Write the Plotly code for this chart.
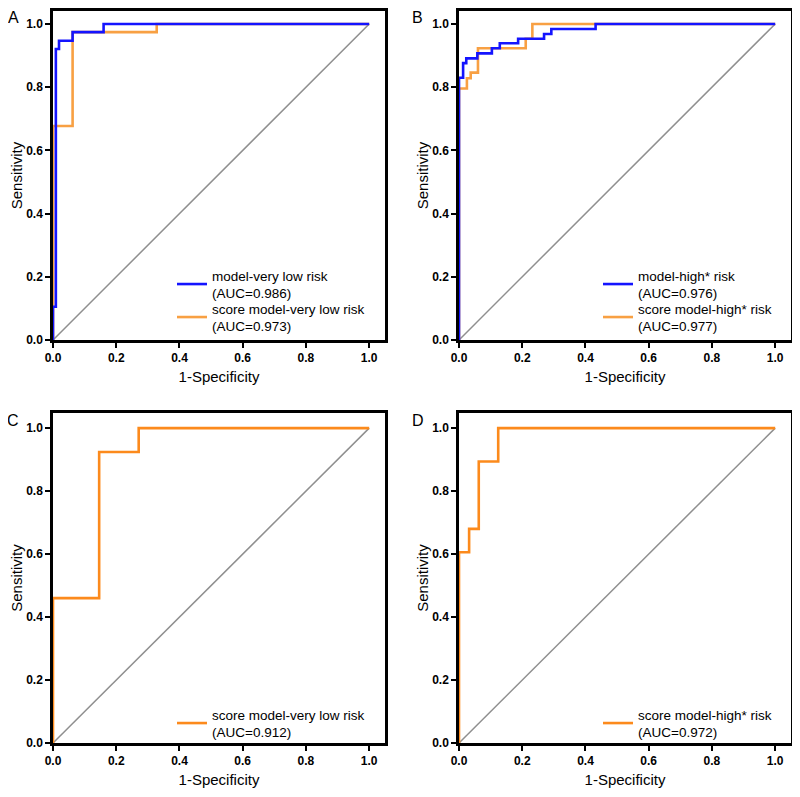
import plotly.graph_objects as go

# ---- data ----
# Panel A: very low risk
a_model_x = [0, 0, 0.009, 0.009, 0.019, 0.019, 0.062, 0.062, 0.16, 0.16, 1.0]
a_model_y = [0, 0.105, 0.105, 0.921, 0.921, 0.947, 0.947, 0.974, 0.974, 1.0, 1.0]
a_score_x = [0, 0, 0.062, 0.062, 0.328, 0.328, 1.0]
a_score_y = [0, 0.677, 0.677, 0.974, 0.974, 1.0, 1.0]
# Panel B: high* risk
b_model_x = [0, 0, 0.013, 0.013, 0.023, 0.023, 0.058, 0.058, 0.104, 0.104, 0.129, 0.129,
             0.187, 0.187, 0.269, 0.269, 0.292, 0.292, 0.432, 0.432, 1.0]
b_model_y = [0, 0.830, 0.830, 0.876, 0.876, 0.891, 0.891, 0.907, 0.907, 0.923, 0.923, 0.939,
             0.939, 0.953, 0.953, 0.968, 0.968, 0.984, 0.984, 1.0, 1.0]
b_score_x = [0, 0, 0.025, 0.025, 0.037, 0.037, 0.060, 0.060, 0.211, 0.211, 0.232, 0.232, 1.0]
b_score_y = [0, 0.796, 0.796, 0.828, 0.828, 0.846, 0.846, 0.923, 0.923, 0.953, 0.953, 1.0, 1.0]
# Panel C: score model very low risk
c_score_x = [0, 0, 0.146, 0.146, 0.271, 0.271, 1.0]
c_score_y = [0, 0.460, 0.460, 0.924, 0.924, 1.0, 1.0]
# Panel D: score model high* risk
d_score_x = [0, 0, 0.032, 0.032, 0.0625, 0.0625, 0.124, 0.124, 1.0]
d_score_y = [0, 0.606, 0.606, 0.680, 0.680, 0.894, 0.894, 1.0, 1.0]

ref_x = [0, 1]
ref_y = [0, 1]

tick_vals = [0, 0.2, 0.4, 0.6, 0.8, 1.0]
tick_text = ["0.0", "0.2", "0.4", "0.6", "0.8", "1.0"]
panel_letters = ["A", "B", "C", "D"]

BLUE = "#1414ff"
ORANGE_L = "#f8a043"
ORANGE_D = "#fc8a1c"
GREY = "#8f8f8f"
FONT = "Arial, Liberation Sans, sans-serif"

fig = go.Figure()

def add_panel(idx, curves):
    sfx = "" if idx == 1 else str(idx)
    xa, ya = "x" + sfx, "y" + sfx
    fig.add_trace(go.Scatter(x=ref_x, y=ref_y, mode="lines", xaxis=xa, yaxis=ya,
                             line=dict(color=GREY, width=1.5), showlegend=False,
                             hoverinfo="skip"))
    for (xs, ys, name, color, lg) in curves:
        fig.add_trace(go.Scatter(x=xs, y=ys, mode="lines", name=name, xaxis=xa, yaxis=ya,
                                 line=dict(color=color, width=2.6, shape="linear"),
                                 legend=lg))

add_panel(1, [
    (a_score_x, a_score_y, "score model-very low risk<br>(AUC=0.973)", ORANGE_L, "legend5"),
    (a_model_x, a_model_y, "model-very low risk<br>(AUC=0.986)", BLUE, "legend"),
])
add_panel(2, [
    (b_score_x, b_score_y, "score model-high* risk<br>(AUC=0.977)", ORANGE_L, "legend6"),
    (b_model_x, b_model_y, "model-high* risk<br>(AUC=0.976)", BLUE, "legend2"),
])
add_panel(3, [
    (c_score_x, c_score_y, "score model-very low risk<br>(AUC=0.912)", ORANGE_D, "legend3"),
])
add_panel(4, [
    (d_score_x, d_score_y, "score model-high* risk<br>(AUC=0.972)", ORANGE_D, "legend4"),
])

# The page body has an 8px margin, so figure pixel = reference pixel - 8
OFF = 8
W, H = 800 - OFF, 797 - OFF
# reference-pixel geometry of plot frames
R_LEFT_L, R_LEFT_R = 53, 385
R_RIGHT_L, R_RIGHT_R = 459, 791
R_TOP_T, R_TOP_B = 11, 340
R_BOT_T, R_BOT_B = 413, 743

ML = R_LEFT_L - OFF
MR = W - (R_RIGHT_R - OFF)
MT = R_TOP_T - OFF
MB = H - (R_BOT_B - OFF)
PW, PH = W - ML - MR, H - MT - MB

def px_x(px):
    return (px - OFF - ML) / PW

def px_y(py):
    return (H - MB - (py - OFF)) / PH

xdom_left = [0, px_x(R_LEFT_R)]
xdom_right = [px_x(R_RIGHT_L), 1]
ydom_top = [px_y(R_TOP_B), 1]
ydom_bot = [0, px_y(R_BOT_T)]

axis_common = dict(
    showline=True, linecolor="black", linewidth=2.5, mirror=True,
    ticks="outside", ticklen=5, tickwidth=2, tickcolor="black",
    showgrid=False, zeroline=False,
    tickvals=tick_vals, ticktext=tick_text,
    tickfont=dict(family=FONT, size=12, color="black", weight="bold"),
)

def xaxis(dom, anchor):
    d = dict(axis_common)
    d.update(domain=dom, anchor=anchor, range=[0, 1.05],
             title=dict(text="1-Specificity", font=dict(family=FONT, size=15, color="black"),
                        standoff=8))
    return d

def yaxis(dom, anchor, top):
    d = dict(axis_common)
    d.update(domain=dom, anchor=anchor, range=[0, top],
             title=dict(text="Sensitivity", font=dict(family=FONT, size=15, color="black"),
                        standoff=0))
    return d

legend_common = dict(bgcolor="rgba(0,0,0,0)", font=dict(family=FONT, size=13.5, color="black"),
                     xanchor="left", yanchor="top", itemwidth=30, tracegroupgap=0,
                     traceorder="normal")

def legend_at(xp, yp):
    d = dict(legend_common)
    d.update(x=px_x(xp), y=px_y(yp))
    return d

fig.update_layout(
    width=W, height=H,
    margin=dict(l=ML, r=MR, t=MT, b=MB, autoexpand=False),
    paper_bgcolor="white", plot_bgcolor="white",
    font=dict(family=FONT, color="black"),
    xaxis=xaxis(xdom_left, "y"), yaxis=yaxis(ydom_top, "x", 1.041),
    xaxis2=xaxis(xdom_right, "y2"), yaxis2=yaxis(ydom_top, "x2", 1.041),
    xaxis3=xaxis(xdom_left, "y3"), yaxis3=yaxis(ydom_bot, "x3", 1.048),
    xaxis4=xaxis(xdom_right, "y4"), yaxis4=yaxis(ydom_bot, "x4", 1.048),
    legend=legend_at(172, 260),
    legend5=legend_at(172, 293),
    legend2=legend_at(598, 260),
    legend6=legend_at(598, 293),
    legend3=legend_at(172, 699),
    legend4=legend_at(598, 699),
    showlegend=True,
)

# letter positions: (center x, top y) in reference pixels
letter_pos = [(13, 8.5), (417, 8.5), (13, 411), (418, 411)]
for letter, (lx, ly) in zip(panel_letters, letter_pos):
    fig.add_annotation(text=letter, xref="paper", yref="paper", x=px_x(lx), y=px_y(ly),
                       xanchor="center", yanchor="top", showarrow=False, borderpad=0,
                       font=dict(family=FONT, size=16, color="black"))

fig.write_html("out.html")
